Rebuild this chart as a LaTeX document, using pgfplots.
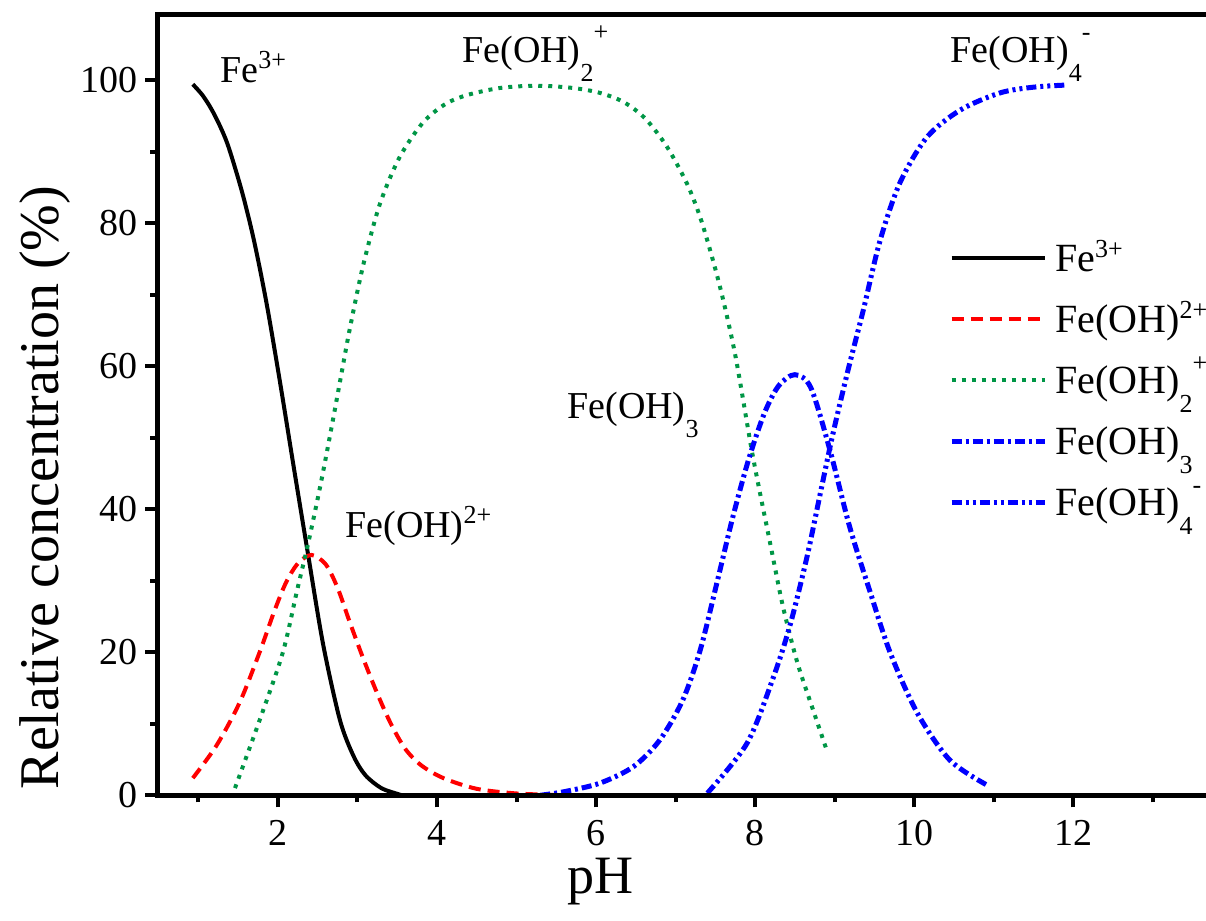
\documentclass[border=0pt]{standalone}
\usepackage{pgfplots}
\pgfplotsset{compat=1.18}
\usepackage{fontspec}
\setmainfont{Liberation Serif}
\definecolor{fegreen}{RGB}{0,150,70}
\newcommand\sps[1]{\raisebox{7pt}{\fontsize{13}{13}\selectfont #1}}
\newcommand\sbs[1]{\raisebox{-9.5pt}{\fontsize{13}{13}\selectfont #1}}
\newcommand\spt[1]{\raisebox{11pt}{\fontsize{13}{13}\selectfont #1}}
\begin{document}
\begin{tikzpicture}
\begin{axis}[
  at={(0,0)}, anchor=south west,
  x=39.75pt, y=3.575pt,
  xmin=0.48, xmax=13.67, ymin=0, ymax=109.2,
  axis line style={draw=none},
  clip=false,
  xtick={2,4,...,12}, minor xtick={1,3,...,13},
  ytick={0,20,...,100}, minor ytick={10,30,...,90},
  tick align=outside, xtick pos=left, ytick pos=left,
  major tick length=6pt, minor tick length=3.5pt,
  tick style={black, line width=2pt},
  major tick style={black, line width=2pt},
  minor tick style={black, line width=2pt},
  tick label style={font=\fontsize{19}{19}\selectfont},
  xticklabel style={yshift=-3pt},
  /pgf/number format/assume math mode=true,
  xlabel={pH},
  xlabel style={font=\fontsize{27}{27}\selectfont, at={(axis description cs:0.4223,-0.1255)}, anchor=base, inner sep=0pt, text height=18pt, text depth=5pt},
  ylabel={Relative concentration (\%)},
  ylabel style={font=\fontsize{28}{28}\selectfont, at={(axis description cs:-0.1068,0.394)}, anchor=center},
  legend style={at={(axis cs:10.44,78.67)}, anchor=north west, draw=none, fill=none,
    inner sep=0pt, outer sep=0pt, row sep=5pt, column sep=4pt,
    font=\fontsize{20}{20}\selectfont,
    nodes={inner sep=0pt, text height=19.5pt, text depth=6pt}},
  legend cell align=left,
  legend image code/.code={\draw[#1] (0pt,0pt) -- (46.5pt,0pt);},
]
\addplot[black, line width=2pt, smooth, tension=0.5] coordinates {
(0.93,99.4) (1.05,97.9) (1.16,96.0) (1.27,93.6) (1.38,90.6) (1.55,84.3) (1.70,77.5) (1.86,68.6) (2.03,57.5)
(2.20,45.8) (2.38,33.6) (2.57,21.0) (2.78,10.5) (2.95,5.5) (3.10,2.8) (3.30,1.0) (3.50,0.2) (3.56,0)};
\addlegendentry{Fe\sps{3+}}
\addplot[red, line width=2pt, dash pattern=on 6pt off 3.5pt, smooth, tension=0.5] coordinates {
(0.93,2.4) (1.23,7.0) (1.52,13.0) (1.77,20.0) (1.95,25.6) (2.10,29.7) (2.25,32.4) (2.42,33.6)
(2.60,32.3) (2.75,29.0) (2.90,24.3) (3.07,19.2) (3.25,14.2) (3.42,10.0) (3.60,6.5) (3.80,4.2)
(4.08,2.4) (4.50,0.9) (5.00,0.25) (5.50,0.05)};
\addlegendentry{Fe(OH)\sps{2+}}
\addplot[fegreen, line width=2pt, dash pattern=on 2pt off 3pt, smooth, tension=0.5] coordinates {
(1.46,1.0) (1.77,10.5) (2.06,19.9) (2.24,28.6) (2.38,35.2) (2.53,43.1) (2.65,50.0)
(2.78,57.8) (2.90,65.0) (3.07,74.0) (3.28,82.6) (3.53,89.2) (3.82,94.0) (4.10,96.6)
(4.38,97.9) (4.80,98.9) (5.26,99.2) (5.70,98.9) (6.05,98.2) (6.35,96.9) (6.62,94.6) (6.89,90.7)
(7.14,85.6) (7.31,80.8) (7.47,74.8) (7.60,69.2) (7.76,61.0) (7.97,47.5) (8.19,35.2)
(8.35,26.4) (8.53,18.6) (8.73,11.9) (8.91,6.0)};
\addlegendentry{Fe(OH)\sbs{2}\spt{+}}
\addplot[blue, line width=2.5pt, dash pattern=on 5pt off 2pt on 1.5pt off 2pt, smooth, tension=0.5] coordinates {
(5.30,0) (5.60,0.5) (6.05,1.7) (6.47,4.0) (6.80,7.7) (7.09,13.3) (7.31,20.3) (7.52,29.7)
(7.72,38.9) (7.92,47.0) (8.12,53.5) (8.30,57.3) (8.50,58.8) (8.70,57.0) (8.94,48.3)
(9.19,37.5) (9.45,28.3) (9.70,19.9) (10.04,11.5) (10.45,4.9) (10.92,1.4)};
\addlegendentry{Fe(OH)\sbs{3}}
\addplot[blue, line width=2.5pt, dash pattern=on 5pt off 2pt on 1.5pt off 2pt on 1.5pt off 2pt, smooth, tension=0.5] coordinates {
(7.40,0.3) (7.90,7.3) (8.23,16.5) (8.44,23.8) (8.65,33.2) (8.82,42.2) (8.98,50.6)
(9.17,59.5) (9.36,67.8) (9.57,77.5) (9.82,85.6) (10.16,92.0) (10.58,95.8) (11.08,98.2)
(11.50,99.0) (11.92,99.3)};
\addlegendentry{Fe(OH)\sbs{4}\spt{-}}
\draw[line width=2.5pt, line join=miter] (rel axis cs:1,0) -- (rel axis cs:0,0) -- (rel axis cs:0,1) -- (rel axis cs:1,1);
\begin{scope}[font=\fontsize{19}{19}\selectfont]
\node[anchor=base west, inner sep=0pt] at (axis cs:1.270,99.72) {Fe\sps{3+}};
\node[anchor=base west, inner sep=0pt] at (axis cs:4.314,102.38) {Fe(OH)\sbs{2}\spt{+}};
\node[anchor=base west, inner sep=0pt] at (axis cs:10.453,102.38) {Fe(OH)\sbs{4}\spt{-}};
\node[anchor=base west, inner sep=0pt] at (axis cs:2.843,36.08) {Fe(OH)\sps{2+}};
\node[anchor=base west, inner sep=0pt] at (axis cs:5.635,52.73) {Fe(OH)\sbs{3}};
\end{scope}
\end{axis}
\pgfresetboundingbox
\path[use as bounding box] (-78.5pt,-62.5pt) rectangle (524.3pt,397.5pt);
\end{tikzpicture}
\end{document}
